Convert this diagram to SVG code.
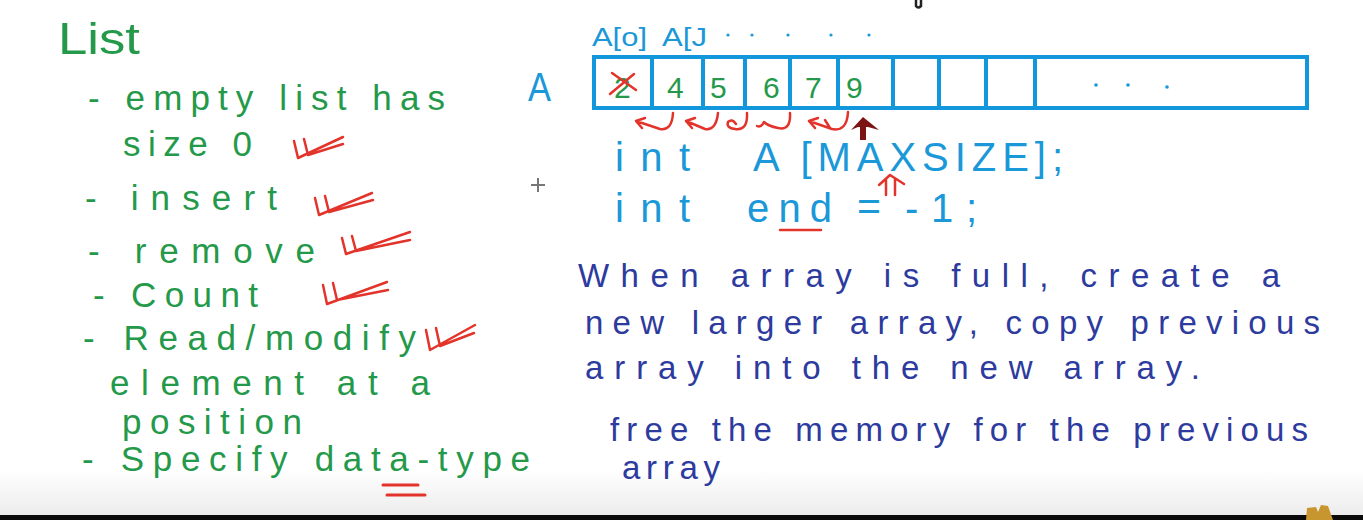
<svg xmlns="http://www.w3.org/2000/svg" width="1363" height="520" viewBox="0 0 1363 520">
<defs>
<linearGradient id="fade" x1="0" y1="0" x2="0" y2="1">
<stop offset="0" stop-color="#ffffff"/>
<stop offset="1" stop-color="#ececec"/>
</linearGradient>
<style>
.g{fill:#24994a;font-family:"Liberation Sans",Arial,sans-serif;}
.b{fill:#1b98d8;font-family:"Liberation Sans",Arial,sans-serif;}
.n{fill:#2d3a9e;font-family:"Liberation Sans",Arial,sans-serif;font-size:33px;}
.red{fill:none;stroke:#e2342b;stroke-width:2.5;stroke-linecap:round;stroke-linejoin:round;}
.cell{fill:none;stroke:#1296dc;stroke-width:4;}
</style>
</defs>
<rect width="1363" height="520" fill="#ffffff"/>
<rect x="0" y="470" width="1363" height="45" fill="url(#fade)"/>
<rect x="0" y="515" width="1363" height="5" fill="#0a0a0a"/>
<path d="M1306,520 L1307,508 L1316,507 L1318,512 L1321,505 L1328,506 L1333,520 Z" fill="#c8962e"/>
<path d="M916,0 L916,6 Q918,9 921,6 L921,0" fill="none" stroke="#222" stroke-width="2.5"/>

<!-- cursor -->
<g id="cursor" stroke="#777" stroke-width="2">
<line x1="538" y1="178" x2="538" y2="192"/>
<line x1="531" y1="185" x2="545" y2="185"/>
</g>

<!-- left list -->
<g id="list">
<text class="g" x="58" y="54" font-size="44" textLength="82" lengthAdjust="spacingAndGlyphs">List</text>
<text class="g" x="88" y="110" font-size="35" textLength="357" lengthAdjust="spacing">- empty list has</text>
<text class="g" x="123" y="156" font-size="35" textLength="129" lengthAdjust="spacing">size 0</text>
<text class="g" x="85" y="210" font-size="35" textLength="192" lengthAdjust="spacing">- insert</text>
<text class="g" x="88" y="263" font-size="35" textLength="227" lengthAdjust="spacing">- remove</text>
<text class="g" x="93" y="307" font-size="35" textLength="165" lengthAdjust="spacing">- Count</text>
<text class="g" x="83" y="350" font-size="35" textLength="333" lengthAdjust="spacing">- Read/modify</text>
<text class="g" x="110" y="395" font-size="35" textLength="320" lengthAdjust="spacing">element at a</text>
<text class="g" x="122" y="434" font-size="35" textLength="180" lengthAdjust="spacing">position</text>
<text class="g" x="82" y="471" font-size="35" textLength="448" lengthAdjust="spacing">- Specify data-type</text>
</g>

<!-- red check marks -->
<g id="checks" class="red">
<path d="M294,141 L298,158 L343,137 M304,139 L308,155 L343,144"/>
<path d="M315,198 L319,215 L372,193 M325,196 L329,212 L373,200"/>
<path d="M342,238 L346,254 L410,232 M352,236 L356,251 L410,240"/>
<path d="M323,285 L327,304 L387,282 M333,283 L337,300 L388,290"/>
<path d="M426,330 L430,350 L475,325 M436,328 L440,346 L474,333"/>
<path d="M383,485 L418,485 M387,495 L425,495" stroke-width="3"/>
</g>

<!-- array -->
<g id="array">
<text class="b" x="528" y="101" font-size="40" textLength="23" lengthAdjust="spacingAndGlyphs">A</text>
<text class="b" x="592" y="46" font-size="26" textLength="55" lengthAdjust="spacingAndGlyphs">A[o]</text>
<text class="b" x="662" y="46" font-size="26" textLength="45" lengthAdjust="spacingAndGlyphs">A[J</text>
<g fill="#1b98d8">
<circle cx="728" cy="35" r="1.6"/><circle cx="752" cy="35" r="1.6"/><circle cx="788" cy="35" r="1.6"/><circle cx="831" cy="35" r="1.6"/><circle cx="869" cy="35" r="1.6"/>
<circle cx="1096" cy="85" r="1.8"/><circle cx="1128" cy="85" r="1.8"/><circle cx="1167" cy="87" r="1.8"/>
</g>
<rect class="cell" x="594" y="57" width="713" height="51"/>
<path class="cell" d="M652,57 V108 M703,57 V108 M745,57 V108 M790,57 V108 M838,57 V108 M893,57 V108 M939,57 V108 M986,57 V108 M1035,57 V108"/>
<text class="g" x="614" y="98" font-size="30">2</text>
<path class="red" d="M612,73 L636,90 M610,94 L634,74"/>
<text class="g" x="667" y="98" font-size="30">4</text>
<text class="g" x="710" y="98" font-size="30">5</text>
<text class="g" x="763" y="98" font-size="30">6</text>
<text class="g" x="805" y="98" font-size="30">7</text>
<text class="g" x="846" y="98" font-size="30">9</text>
</g>

<!-- shift arrows -->
<g id="connectors">
<path class="red" d="M673,113 Q672,131 660,129 L636,121 M636,121 L645,118 M636,121 L642,128"/>
<path class="red" d="M718,113 Q716,131 705,129 L686,121 M686,121 L695,118 M686,121 L692,128"/>
<path class="red" d="M747,113 Q748,131 735,129 Q726,128 728,122 Q732,118 736,124"/>
<path class="red" d="M790,113 Q791,131 778,128 Q768,126 764,122 Q761,128 757,126"/>
<path class="red" d="M848,112 Q847,132 832,129 L809,121 M809,121 L818,118 M809,121 L815,128 M825,120 L830,128"/>
<path d="M863,140 L863,127" stroke="#7d1414" stroke-width="6"/>
<path d="M851,130 L863,117 L879,130 L868,127 L858,127 Z" fill="#7d1414"/>
<path class="red" d="M886,195 L886,179 M895,195 L895,179 M879,185 L890,175 L904,184" stroke-width="2"/>
<path class="red" d="M780,230 L821,230" stroke-width="3"/>
</g>

<!-- code -->
<g id="code">
<text class="b" x="615" y="171" font-size="40" textLength="75" lengthAdjust="spacing">int</text>
<text class="b" x="753" y="171" font-size="40" textLength="310" lengthAdjust="spacing">A [MAXSIZE];</text>
<text class="b" x="615" y="222" font-size="40" textLength="75" lengthAdjust="spacing">int</text>
<text class="b" x="747" y="222" font-size="40" textLength="85" lengthAdjust="spacing">end</text>
<text class="b" x="857" y="220" font-size="40" textLength="24" lengthAdjust="spacingAndGlyphs">=</text>
<text class="b" x="905" y="222" font-size="40" textLength="72" lengthAdjust="spacing">-1;</text>
</g>

<!-- note -->
<g id="note">
<text class="n" x="578" y="287" textLength="702" lengthAdjust="spacing">When array is full, create a</text>
<text class="n" x="585" y="334" textLength="735" lengthAdjust="spacing">new larger array, copy previous</text>
<text class="n" x="585" y="379" textLength="615" lengthAdjust="spacing">array into the new array.</text>
<text class="n" x="610" y="441" textLength="698" lengthAdjust="spacing">free the memory for the previous</text>
<text class="n" x="622" y="479" textLength="98" lengthAdjust="spacing">array</text>
</g>
</svg>
